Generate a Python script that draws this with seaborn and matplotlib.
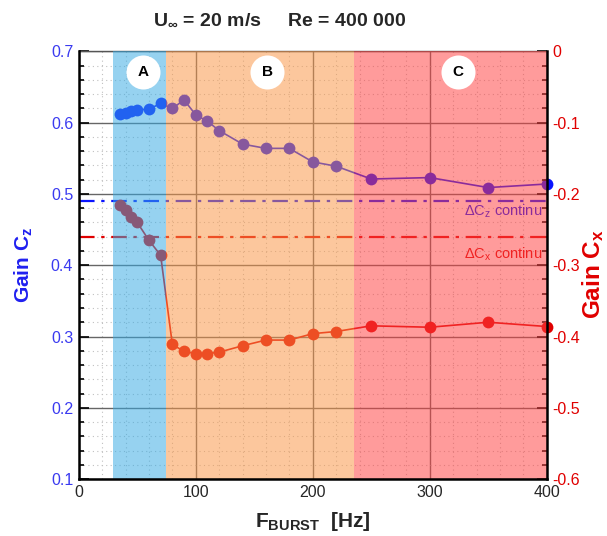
import matplotlib
matplotlib.use("Agg")
import matplotlib.pyplot as plt
import matplotlib.ticker as mticker
import matplotlib.transforms as mtrans
import seaborn as sns

# burst frequency [Hz] and gains
freq = [35, 40, 45, 50, 60, 70, 80, 90, 100, 110, 120, 140, 160, 180, 200, 220, 250, 300, 350, 400]
gain_cz = [0.612, 0.614, 0.617, 0.618, 0.619, 0.627, 0.620, 0.632, 0.611, 0.602, 0.589,
           0.570, 0.564, 0.564, 0.545, 0.539, 0.521, 0.523, 0.509, 0.514]
gain_cx = [-0.216, -0.222, -0.232, -0.240, -0.265, -0.286, -0.411, -0.421, -0.424, -0.424, -0.422,
           -0.413, -0.405, -0.405, -0.396, -0.393, -0.385, -0.387, -0.380, -0.386]

# continuous blowing reference
cz_continu = 0.49
cx_continu = -0.26

# regimes A / B / C
zone_names = ["A", "B", "C"]
zone_edges = [(29, 75), (75, 235), (235, 400)]
zone_colors = ["#37aae3", "#fa9646", "#ff4141"]
zone_label_x = [55, 161, 324]

BLUE = "#0a14ff"
RED = "#e00000"

sns.set_theme(style="white")
plt.rcParams["font.family"] = ["Liberation Sans", "DejaVu Sans"]
plt.rcParams["mathtext.fontset"] = "custom"
plt.rcParams["mathtext.rm"] = "Liberation Sans"
plt.rcParams["mathtext.bf"] = "Liberation Sans:bold"
plt.rcParams["mathtext.it"] = "Liberation Sans:italic"
plt.rcParams["axes.unicode_minus"] = False

fig = plt.figure(figsize=(6.07, 5.36), dpi=100)
ax = fig.add_axes([0.1297, 0.1063, 0.771, 0.7977])
ax2 = ax.twinx()

# grid (drawn under the coloured zones)
ax.set_axisbelow(True)
ax.grid(which="major", color="#666666", lw=1.0, ls="-")
ax.grid(which="minor", color="#c0c0c0", lw=0.8, ls=(0, (1, 3)))

sns.lineplot(x=freq, y=gain_cz, ax=ax, color=BLUE, lw=1.2, marker="o", markersize=8.5,
             markeredgewidth=0, clip_on=False, zorder=3)
ax.axhline(cz_continu, color=BLUE, lw=1.6, ls=(0, (7, 3, 1.5, 3)), zorder=2)
ax.text(396, 0.475, "ΔC$_\\mathrm{z}$ continu", color=BLUE, fontsize=10.5,
        ha="right", va="center", zorder=2)

sns.lineplot(x=freq, y=gain_cx, ax=ax2, color=RED, lw=1.2, marker="o", markersize=8.5,
             markeredgewidth=0, clip_on=False, zorder=3)
ax2.axhline(cx_continu, color=RED, lw=1.6, ls=(0, (7, 3, 1.5, 3)), zorder=2)
ax2.text(396, -0.285, "ΔC$_\\mathrm{x}$ continu", color=RED, fontsize=10.5,
         ha="right", va="center", zorder=2)

# translucent zones on top of everything in the plot area
for (x0, x1), c in zip(zone_edges, zone_colors):
    ax2.axvspan(x0, x1, color=c, alpha=0.525, lw=0, zorder=5)

trans = mtrans.blended_transform_factory(ax2.transData, ax2.transAxes)
for name, xc in zip(zone_names, zone_label_x):
    ax2.scatter([xc], [0.952], s=600, color="white", lw=0, transform=trans, zorder=10, clip_on=False)
    ax2.text(xc, 0.952, name, transform=trans, ha="center", va="center",
             fontsize=11, fontweight="bold", color="black", zorder=11)

# axes limits and ticks
ax.set_xlim(0, 400)
ax.set_ylim(0.1, 0.7)
ax2.set_ylim(-0.6, 0)
ax.xaxis.set_major_locator(mticker.MultipleLocator(100))
ax.xaxis.set_minor_locator(mticker.MultipleLocator(20))
ax.yaxis.set_major_locator(mticker.MultipleLocator(0.1))
ax.yaxis.set_minor_locator(mticker.MultipleLocator(0.02))
ax2.yaxis.set_major_locator(mticker.MultipleLocator(0.1))
ax2.yaxis.set_minor_locator(mticker.MultipleLocator(0.02))
fmt = mticker.FuncFormatter(lambda v, p: "%g" % round(v, 3))
ax.xaxis.set_major_formatter(fmt)
ax.yaxis.set_major_formatter(fmt)
ax2.yaxis.set_major_formatter(fmt)

ax.tick_params(which="both", direction="in", color="black", width=1.2)
ax.tick_params(which="major", length=7, labelsize=11.5, pad=4)
ax.tick_params(which="minor", length=3.5)
ax.tick_params(axis="y", labelcolor="#3a3af0")
ax2.tick_params(which="both", direction="in", color="black", width=1.2)
ax2.tick_params(which="major", length=7, labelsize=11.5, labelcolor=RED, pad=4)
ax2.tick_params(which="minor", length=3.5)

for side in ["left", "bottom", "right"]:
    ax2.spines[side].set_color("black")
    ax2.spines[side].set_linewidth(1.8)
    ax2.spines[side].set_zorder(6)
ax2.spines["top"].set_color("#555555")
ax2.spines["top"].set_linewidth(1.0)
ax2.spines["top"].set_zorder(4)
for s in ax.spines.values():
    s.set_visible(False)

ax.set_xlabel("F$_\\mathbf{BURST}$  [Hz]", fontsize=15, fontweight="bold")
ax.xaxis.set_label_coords(0.5, -0.072)
ax.set_ylabel("Gain C$_\\mathbf{z}$", fontsize=15, fontweight="bold", color="#2020f0")
ax.yaxis.set_label_coords(-0.093, 0.5)
ax2.set_ylabel("Gain C$_\\mathbf{x}$", fontsize=17.5, fontweight="bold", color=RED)
ax2.yaxis.set_label_coords(1.072, 0.48)

fig.text(0.46, 0.962, "U$_\\mathbf{\\infty}$ = 20 m/s     Re = 400 000",
         ha="center", va="center", fontsize=14, fontweight="bold")

fig.savefig("out.png", dpi=100)
